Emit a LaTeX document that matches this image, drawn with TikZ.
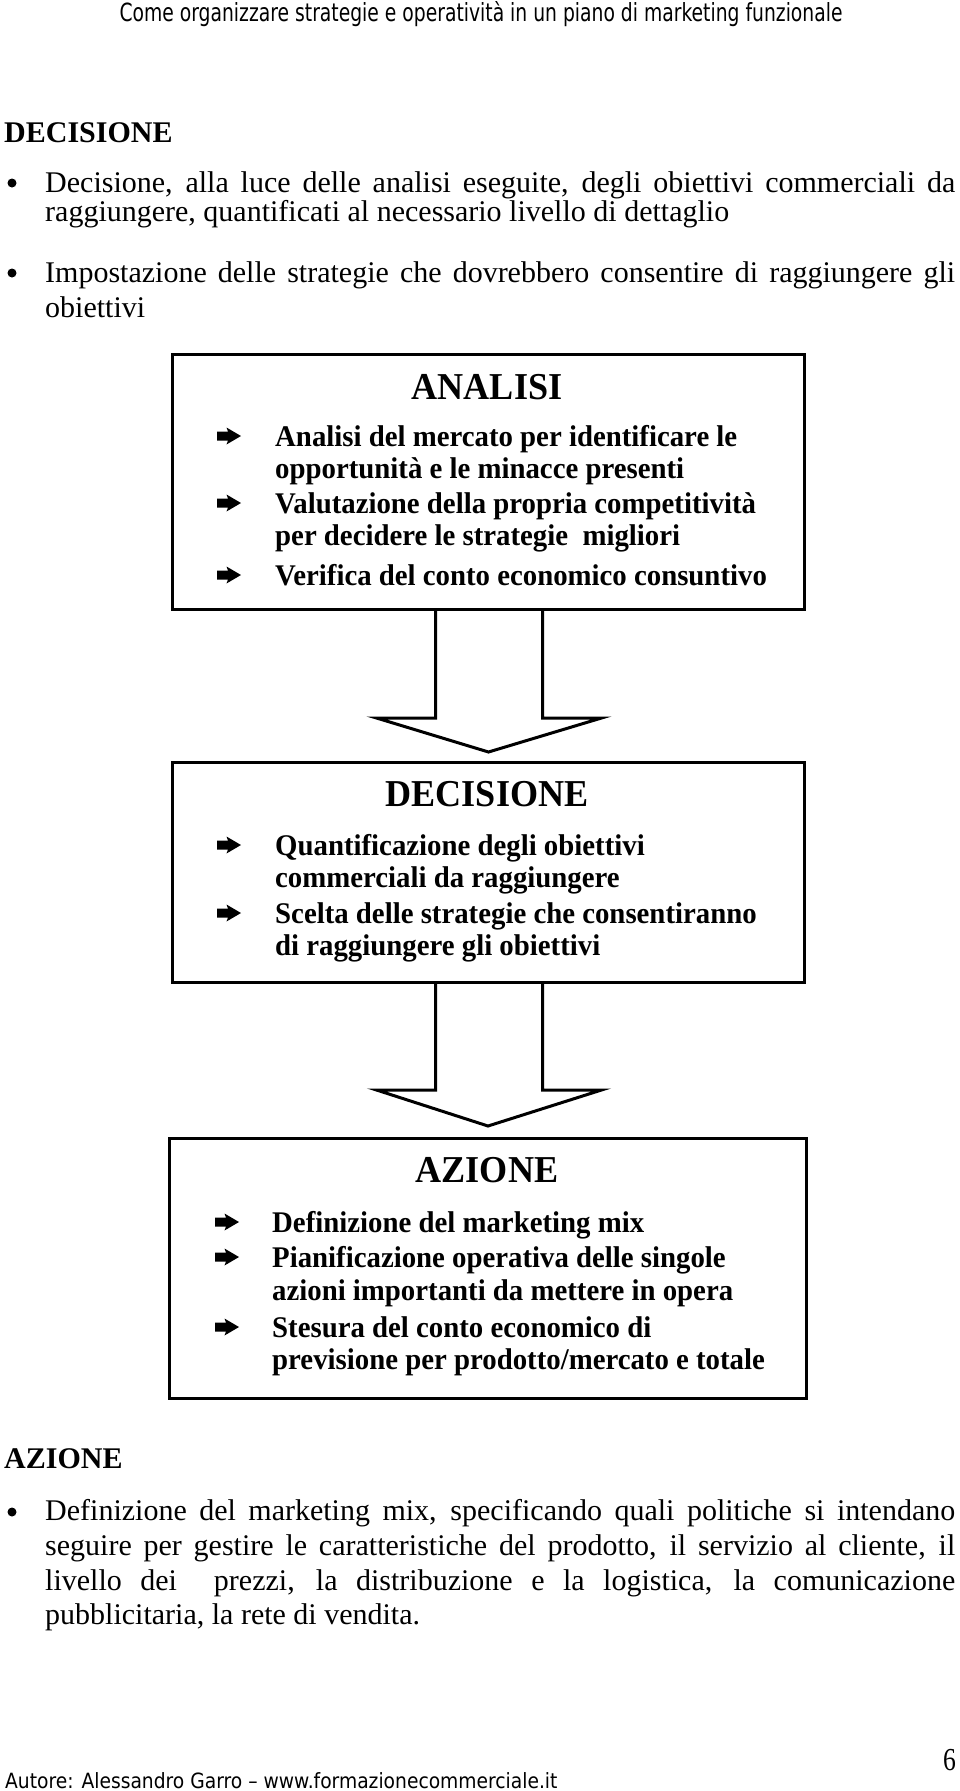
\documentclass[tikz,border=0pt]{standalone}
\usepackage{fontspec}
\setmainfont{Liberation Serif}
\newfontfamily\bodyfont{Liberation Serif}
\newfontfamily\boxfont{Liberation Serif}[FakeStretch=0.96]
\newfontfamily\titlefont{Liberation Serif}[FakeStretch=0.95]
\newfontfamily\sansfont{DejaVu Sans}[FakeStretch=0.75]
\newfontfamily\footfont{DejaVu Sans}[FakeStretch=0.89]
\newfontfamily\numfont{Liberation Serif}[FakeStretch=0.8]
\usetikzlibrary{calc}
\tikzset{
  body/.style={anchor=base west, inner sep=0pt, font=\bodyfont\fontsize{30}{32}\selectfont},
  heading/.style={anchor=base west, inner sep=0pt, font=\bodyfont\bfseries\fontsize{30}{32}\selectfont},
  boxtext/.style={anchor=base west, inner sep=0pt, font=\boxfont\bfseries\fontsize{30}{32}\selectfont},
  boxtitle/.style={anchor=base, inner sep=0pt, font=\titlefont\bfseries\fontsize{38}{40}\selectfont},
  sanstext/.style={inner sep=0pt, font=\sansfont\fontsize{25}{27}\selectfont},
  foottext/.style={inner sep=0pt, font=\footfont\fontsize{21}{23}\selectfont},
  panel/.style={draw, line width=3pt, fill=white, anchor=north west, inner sep=0pt},
  hollow/.style={draw, line width=3pt, line join=miter},
  bulletdot/.style={fill, circle, inner sep=0pt, minimum size=9pt},
  rarr/.pic={\fill (-12,-4.5) -- (-1,-4.5) -- (-2.5,-8.5) -- (12,0) -- (-2.5,8.5) -- (-1,4.5) -- (-12,4.5) -- cycle;}
}
\begin{document}
\begin{tikzpicture}[x=1pt,y=-1pt]
\useasboundingbox (0,0) rectangle (960,1791);
\fill[white] (0,0) rectangle (960,1791);

% header
\node[sanstext, anchor=base] (hdr) at (481,21) {Come organizzare strategie e operatività in un piano di marketing funzionale};

% top section
\node[heading] (h1) at (4,142) {DECISIONE};
\node[bulletdot] (d1) at (12,183) {};
\node[body] (t1) at (45,192) {\makebox[910pt][s]{Decisione, alla luce delle analisi eseguite, degli obiettivi commerciali da}};
\node[body] (t2) at (45,221) {raggiungere, quantificati al necessario livello di dettaglio};
\node[bulletdot] (d2) at (12,273) {};
\node[body] (t3) at (45,282) {\makebox[910pt][s]{Impostazione delle strategie che dovrebbero consentire di raggiungere gli}};
\node[body] (t4) at (45,317) {obiettivi};

% box 1
\node[panel, minimum width=632pt, minimum height=255pt] (b1) at (171,353) {};
\node[boxtitle] (b1t) at (487,399) {ANALISI};
\pic at (229,436) {rarr};
\pic at (229,503) {rarr};
\pic at (229,575) {rarr};
\node[boxtext] (b1a) at (275,446) {Analisi del mercato per identificare le};
\node[boxtext] (b1b) at (275,478) {opportunità e le minacce presenti};
\node[boxtext] (b1c) at (275,513) {Valutazione della propria competitività};
\node[boxtext] (b1d) at (275,545) {per decidere le strategie\ \ migliori};
\node[boxtext] (b1e) at (275,585) {Verifica del conto economico consuntivo};

% box 2
\node[panel, minimum width=632pt, minimum height=220pt] (b2) at (171,761) {};
\node[boxtitle] (b2t) at (487,806) {DECISIONE};
\pic at (229,845) {rarr};
\pic at (229,913) {rarr};
\node[boxtext] (b2a) at (275,855) {Quantificazione degli obiettivi};
\node[boxtext] (b2b) at (275,887) {commerciali da raggiungere};
\node[boxtext] (b2c) at (275,923) {Scelta delle strategie che consentiranno};
\node[boxtext] (b2d) at (275,955) {di raggiungere gli obiettivi};

% box 3
\node[panel, minimum width=637pt, minimum height=260pt] (b3) at (168,1137) {};
\node[boxtitle] (b3t) at (487,1182) {AZIONE};
\pic at (227,1222) {rarr};
\pic at (227,1257) {rarr};
\pic at (227,1327) {rarr};
\node[boxtext] (b3a) at (272,1232) {Definizione del marketing mix};
\node[boxtext] (b3b) at (272,1267) {Pianificazione operativa delle singole};
\node[boxtext] (b3c) at (272,1300) {azioni importanti da mettere in opera};
\node[boxtext] (b3d) at (272,1337) {Stesura del conto economico di};
\node[boxtext] (b3e) at (272,1369) {previsione per prodotto/mercato e totale};

% block arrows
\draw[hollow] ($(b1.south)+(-53,0)$) -- ($(b1.south)+(-53,107)$) -- ($(b1.south)+(-112,107)$)
  -- ($(b2.north)+(0,-9)$) -- ($(b1.south)+(113,107)$) -- ($(b1.south)+(54,107)$) -- ($(b1.south)+(54,0)$);
\draw[hollow] ($(b2.south)+(-53,0)$) -- ($(b2.south)+(-53,106)$) -- ($(b2.south)+(-112,106)$)
  -- ($(b3.north)+(0,-11)$) -- ($(b2.south)+(113,106)$) -- ($(b2.south)+(54,106)$) -- ($(b2.south)+(54,0)$);

% bottom section
\node[heading] (h2) at (4,1468) {AZIONE};
\node[bulletdot] (d3) at (12,1512) {};
\node[body] (u1) at (45,1520) {\makebox[910pt][s]{Definizione del marketing mix, specificando quali politiche si intendano}};
\node[body] (u2) at (45,1555) {\makebox[910pt][s]{seguire per gestire le caratteristiche del prodotto, il servizio al cliente, il}};
\node[body] (u3) at (45,1590) {\makebox[910pt][s]{livello dei\ \ prezzi, la distribuzione e la logistica, la comunicazione}};
\node[body] (u4) at (45,1624) {pubblicitaria, la rete di vendita.};

% footer
\node[foottext, anchor=base west] (ftr) at (5,1788) {Autore: Alessandro Garro – www.formazionecommerciale.it};
\node[anchor=base east, inner sep=0pt, font=\numfont\fontsize{32}{34}\selectfont] (pg) at (956,1770) {6};
\end{tikzpicture}
\end{document}
